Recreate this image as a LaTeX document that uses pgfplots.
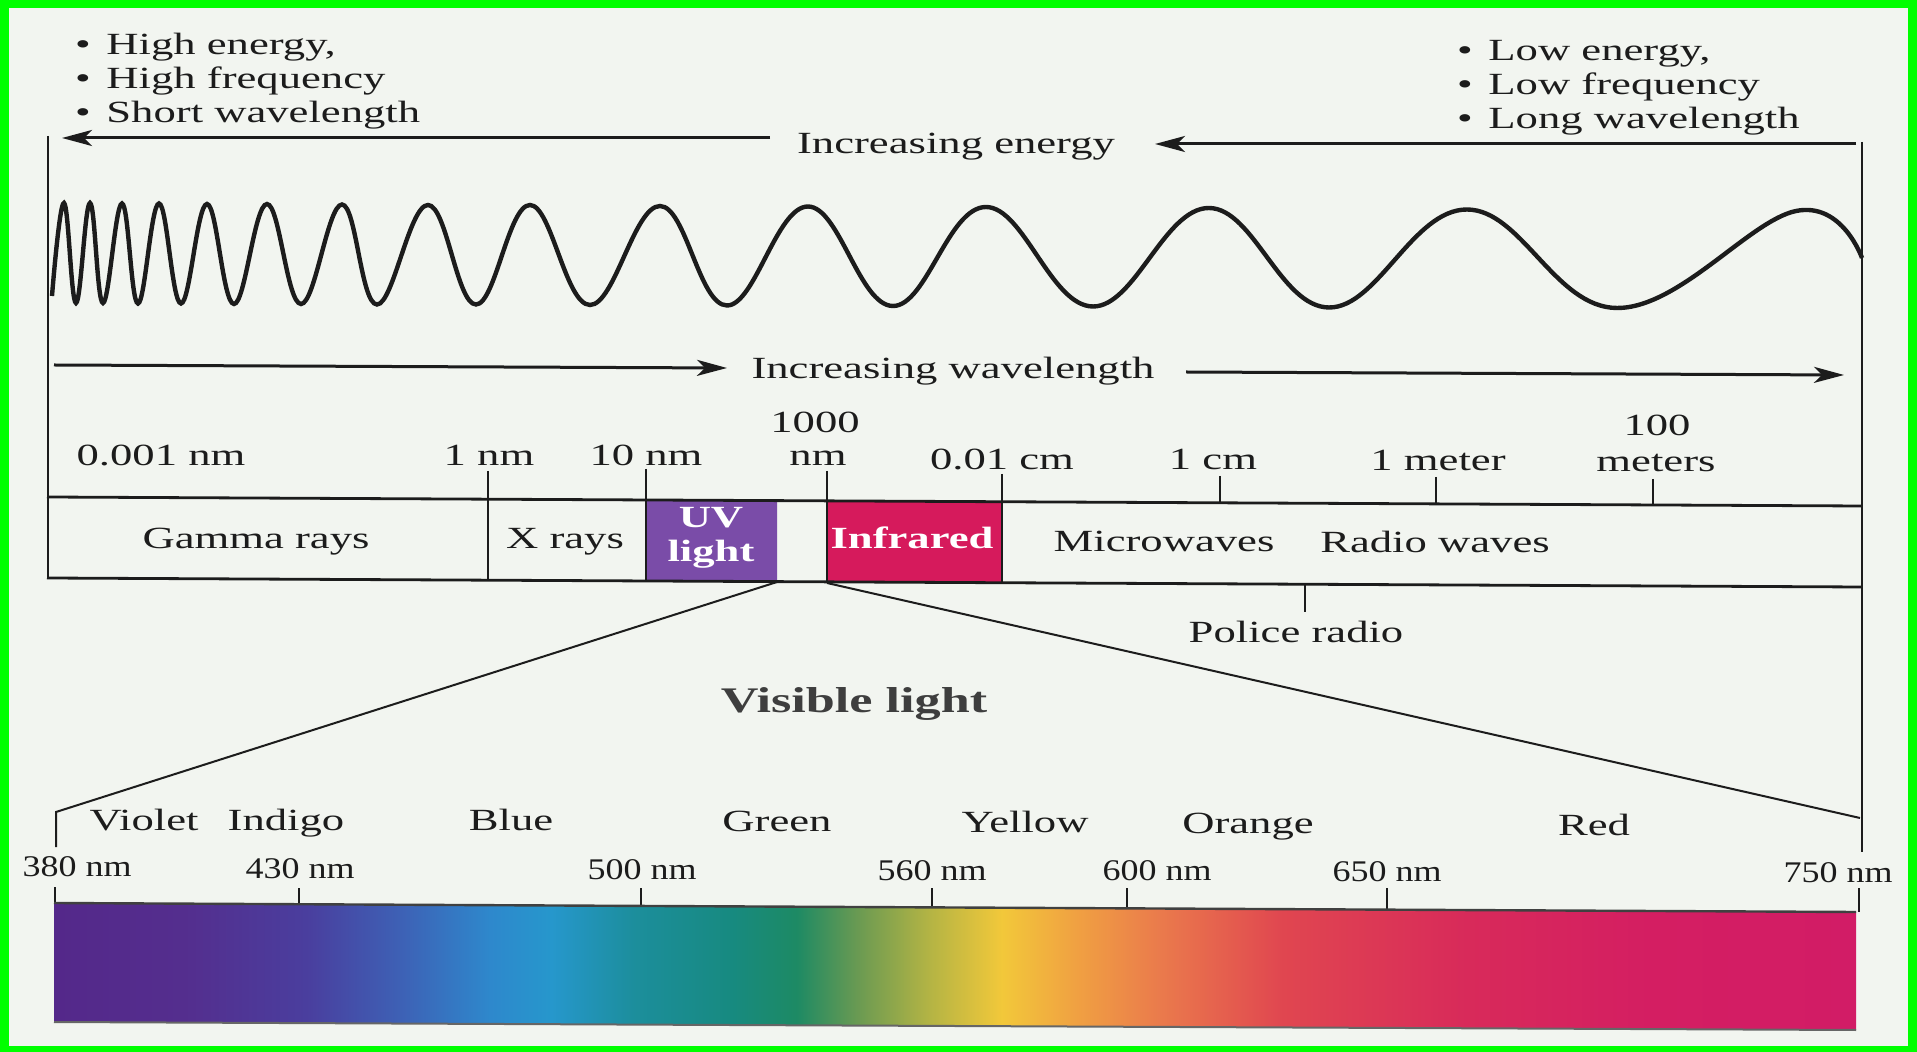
\documentclass[border=0pt]{standalone}
\usepackage{fontspec}
\setmainfont{Liberation Serif}[FakeStretch=1.45]
\newfontfamily\nmfont{Liberation Serif}[FakeStretch=1.2]
\usepackage{pgfplots}
\pgfplotsset{compat=1.18}
\usetikzlibrary{arrows.meta}
\definecolor{bg}{RGB}{242,245,240}
\definecolor{brd}{RGB}{0,255,0}
\definecolor{ink}{RGB}{28,28,28}
\definecolor{uvc}{RGB}{122,76,168}
\definecolor{irc}{RGB}{214,26,92}
\definecolor{s01}{RGB}{84,40,138}
\definecolor{s02}{RGB}{84,46,142}
\definecolor{s03}{RGB}{74,62,158}
\definecolor{s04}{RGB}{61,98,182}
\definecolor{s05}{RGB}{46,136,204}
\definecolor{s06}{RGB}{38,151,204}
\definecolor{s07}{RGB}{28,142,156}
\definecolor{s08}{RGB}{23,138,128}
\definecolor{s09}{RGB}{29,138,100}
\definecolor{s10}{RGB}{106,154,82}
\definecolor{s11}{RGB}{180,180,68}
\definecolor{s12}{RGB}{242,200,58}
\definecolor{s13}{RGB}{240,160,66}
\definecolor{s14}{RGB}{234,122,76}
\definecolor{s15}{RGB}{224,70,80}
\definecolor{s16}{RGB}{216,42,90}
\definecolor{s17}{RGB}{212,30,98}
\definecolor{s18}{RGB}{210,28,102}
\pgfdeclarehorizontalshading{rainbow}{100bp}{%
color(0bp)=(s01); color(25bp)=(s01); color(28.6bp)=(s02); color(32bp)=(s03);
color(34.7bp)=(s04); color(37.1bp)=(s05); color(38.8bp)=(s06); color(41.1bp)=(s07);
color(43.8bp)=(s08); color(45.6bp)=(s09); color(47.3bp)=(s10); color(49.3bp)=(s11);
color(51.3bp)=(s12); color(53.4bp)=(s13); color(55.7bp)=(s14); color(59.1bp)=(s15);
color(64.2bp)=(s16); color(69.3bp)=(s17); color(75bp)=(s18); color(100bp)=(s18)}
\tikzset{
  lab/.style={anchor=base, inner sep=0pt, text=ink, font=\fontsize{15.4}{18}\selectfont},
  nlab/.style={anchor=base, inner sep=0pt, text=ink, font=\nmfont\fontsize{15}{17}\selectfont},
  labw/.style={anchor=base west, inner sep=0pt, text=ink, font=\fontsize{15.4}{18}\selectfont},
  wlab/.style={anchor=base, inner sep=0pt, text=white, font=\fontsize{15.4}{18}\selectfont\bfseries},
  arr/.style={ink, line width=1.5pt, -{Stealth[length=15pt,width=8pt,inset=4pt]}},
}
\begin{document}
\begin{tikzpicture}
\begin{axis}[width=958.5pt, height=526pt, scale only axis,
  xmin=0, xmax=1917, ymin=0, ymax=1052, y dir=reverse,
  hide axis, clip=false]
% background and border
\fill[brd] (0,0) rectangle (1917,1052);
\fill[bg] (9,8) rectangle (1908,1046);

% top texts
\node[lab] at (83,55) {•};
\node[labw] at (106,55) {High energy,};
\node[lab] at (83,89) {•};
\node[labw] at (106,89) {High frequency};
\node[lab] at (83,123) {•};
\node[labw] at (106,123) {Short wavelength};
\node[lab] at (1465,61) {•};
\node[labw] at (1488,61) {Low energy,};
\node[lab] at (1465,95) {•};
\node[labw] at (1488,95) {Low frequency};
\node[lab] at (1465,129) {•};
\node[labw] at (1488,129) {Long wavelength};

% energy arrow
\addplot[arr] coordinates {(770,138) (62,138)};
\addplot[arr] coordinates {(1856,144) (1155,144)};
\node[lab] at (956,154) {Increasing energy};

% frame verticals
\addplot[ink, line width=1pt] coordinates {(48,136) (48,578)};
\addplot[ink, line width=1pt] coordinates {(1862,142) (1862,852)};

% wave: start, peaks and troughs
\addplot[ink, line width=2.2pt, smooth, tension=0.68] coordinates {
(52,296) (64,203) (76,303) (90,203) (103,303) (122,203.5) (138,303.5)
(159,203.5) (181,303.5) (207,204) (234,304) (267,204) (301,304)
(342,204.5) (377,304.5) (428,205) (476,304.5) (530,205) (590,305)
(660,206) (727,305.5) (808,206.5) (893,306) (986,207) (1093,306.5)
(1209,208) (1329,307.5) (1467,209.5) (1617,308) (1796,211) (1862,258)};

% wavelength arrow
\addplot[arr] coordinates {(54,365) (727,368)};
\addplot[arr] coordinates {(1186,372) (1844,375)};
\node[lab] at (953,379) {Increasing wavelength};

% scale labels
\node[lab] at (161,466) {0.001 nm};
\node[lab] at (489,466) {1 nm};
\node[lab] at (646,466) {10 nm};
\node[lab] at (815,433) {1000};
\node[lab] at (818,466) {nm};
\node[lab] at (1002,470) {0.01 cm};
\node[lab] at (1213,470) {1 cm};
\node[lab] at (1438,471) {1 meter};
\node[lab] at (1657,436) {100};
\node[lab] at (1656,472) {meters};

% boxes
\fill[uvc] (646,500) -- (777,500.5) -- (777,581.5) -- (646,581) -- cycle;
\fill[irc] (827,501) -- (1002,502) -- (1002,583) -- (827,582) -- cycle;

% band lines
\addplot[ink, line width=1.4pt] coordinates {(47,497) (1862,506)};
\addplot[ink, line width=1.4pt] coordinates {(47,578) (1862,587)};
\addplot[ink, line width=1pt] coordinates {(488,471) (488,580)};
\addplot[ink, line width=1pt] coordinates {(646,469) (646,581)};
\addplot[ink, line width=1pt] coordinates {(827,471) (827,582)};
\addplot[ink, line width=1pt] coordinates {(1002,474) (1002,583)};
\addplot[ink, line width=1pt] coordinates {(1220,476) (1220,503)};
\addplot[ink, line width=1pt] coordinates {(1436,477) (1436,504)};
\addplot[ink, line width=1pt] coordinates {(1653,479) (1653,505)};
\addplot[ink, line width=1pt] coordinates {(1305,584) (1305,612)};

% band labels
\node[lab] at (256,549) {Gamma rays};
\node[lab] at (565,549) {X rays};
\node[wlab] at (711,528) {UV};
\node[wlab] at (711,562) {light};
\node[wlab] at (912,549) {Infrared};
\node[lab] at (1164,552) {Microwaves};
\node[lab] at (1435,553) {Radio waves};
\node[lab] at (1296,643) {Police radio};

% visible triangle
\addplot[ink, line width=1pt] coordinates {(777,582) (56,812) (56,847)};
\addplot[ink, line width=1pt] coordinates {(827,583) (1860,818)};
\node[anchor=base, inner sep=0pt, text=ink!85, font=\fontsize{18}{21}\selectfont\bfseries] at (854,713) {Visible light};

% colour names
\node[lab] at (144,830) {Violet};
\node[lab] at (286,830) {Indigo};
\node[lab] at (511,831) {Blue};
\node[lab] at (777,832) {Green};
\node[lab] at (1025,833) {Yellow};
\node[lab] at (1248,834) {Orange};
\node[lab] at (1594,835) {Red};

% nm labels
\node[nlab] at (77,877) {380 nm};
\node[nlab] at (300,878) {430 nm};
\node[nlab] at (642,879) {500 nm};
\node[nlab] at (932,880) {560 nm};
\node[nlab] at (1157,880) {600 nm};
\node[nlab] at (1387,881) {650 nm};
\node[nlab] at (1838,882) {750 nm};

% ticks
\addplot[ink, line width=1pt] coordinates {(55,887) (55,903)};
\addplot[ink, line width=1pt] coordinates {(299,888) (299,904)};
\addplot[ink, line width=1pt] coordinates {(641,888) (641,905)};
\addplot[ink, line width=1pt] coordinates {(932,888) (932,906)};
\addplot[ink, line width=1pt] coordinates {(1127,888) (1127,907)};
\addplot[ink, line width=1pt] coordinates {(1387,888) (1387,909)};
\addplot[ink, line width=1pt] coordinates {(1859,888) (1859,912)};

% rainbow bar
\shade[shading=rainbow] (54,903) -- (1856,912) -- (1856,1030) -- (54,1022) -- cycle;
\addplot[black!75, line width=1.2pt] coordinates {(54,903) (1856,912)};
\addplot[black!60, line width=1pt] coordinates {(54,1022) (1856,1030)};
\end{axis}
\end{tikzpicture}
\end{document}
